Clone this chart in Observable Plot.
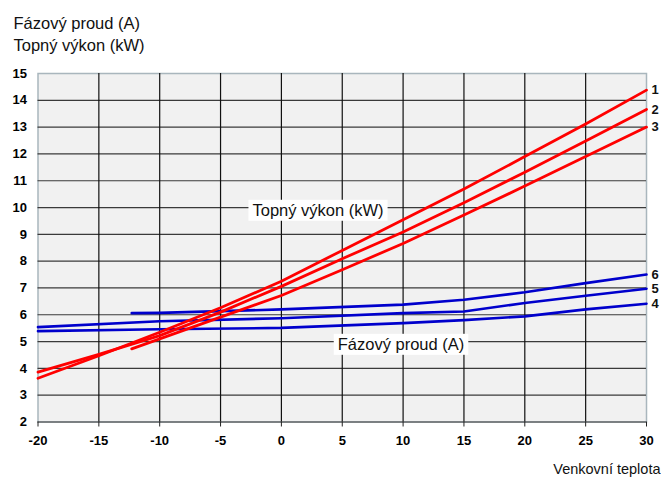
<!DOCTYPE html>
<html>
<head>
<meta charset="utf-8">
<script src="https://cdn.jsdelivr.net/npm/d3@7"></script>
<script src="https://cdn.jsdelivr.net/npm/@observablehq/plot@0.6"></script>
<style>
  html, body { margin: 0; padding: 0; background: #ffffff; }
  #chart svg { display: block; }
</style>
</head>
<body>
<div id="chart"></div>
<script>
// ---- data ----
const xTicks = [-20, -15, -10, -5, 0, 5, 10, 15, 20, 25, 30];
const yTicks = [2, 3, 4, 5, 6, 7, 8, 9, 10, 11, 12, 13, 14, 15];

// heating output (kW) curves 1..3
const line1T = [-20, -15, -10, -5, 0, 5, 10, 15, 20, 25, 30];
const line1V = [3.63, 4.47, 5.35, 6.26, 7.25, 8.40, 9.54, 10.69, 11.90, 13.12, 14.38];
const line2T = [-20, -15, -10, -5, 0, 5, 10, 15, 20, 25, 30];
const line2V = [3.86, 4.52, 5.22, 6.10, 7.06, 8.09, 9.09, 10.18, 11.32, 12.48, 13.66];
const line3T = [-12.3, -10, -5, 0, 5, 10, 15, 20, 25, 30];
const line3V = [4.73, 5.10, 5.91, 6.72, 7.68, 8.66, 9.72, 10.80, 11.90, 13.00];

// phase current (A) curves 4..6
const line4T = [-20, -10, 0, 10, 15, 20, 25, 30];
const line4V = [5.39, 5.46, 5.51, 5.69, 5.80, 5.94, 6.20, 6.41];
const line5T = [-20, -10, 0, 10, 15, 20, 25, 30];
const line5V = [5.54, 5.76, 5.87, 6.06, 6.12, 6.44, 6.71, 6.97];
const line6T = [-12.3, -10, 0, 10, 15, 20, 25, 30];
const line6V = [6.06, 6.07, 6.20, 6.38, 6.56, 6.84, 7.18, 7.50];

// text
const titleCurrent = "Fázový proud (A)";
const titlePower = "Topný výkon (kW)";
const titleX = "Venkovní teplota";

// ---- build tables ----
function rows(name, ts, vs) { return ts.map((t, i) => ({series: name, t, v: vs[i]})); }
const red = [
  ...rows("1", line1T, line1V),
  ...rows("2", line2T, line2V),
  ...rows("3", line3T, line3V)
];
const blue = [
  ...rows("4", line4T, line4V),
  ...rows("5", line5T, line5V),
  ...rows("6", line6T, line6V)
];
const ends = [...red, ...blue].filter(d => d.t === 30);

const FONT = "'Liberation Sans', Arial, sans-serif";
const inlineLabels = [
  {text: titlePower, t: 3.05, v: 9.89},
  {text: titleCurrent, t: 9.87, v: 4.89}
];

const chart = Plot.plot({
  width: 661,
  height: 477,
  marginLeft: 37.5,
  marginRight: 15,
  marginTop: 73,
  marginBottom: 55.5,
  style: {fontFamily: FONT, background: "transparent", color: "#000"},
  x: {domain: [-20, 30], axis: null},
  y: {domain: [2, 15], axis: null},
  marks: [
    Plot.frame({fill: "#f1f1f1", stroke: "#a9b6bd", strokeWidth: 1.5}),
    Plot.gridY(yTicks.filter(v => v < 15), {stroke: "#3a3a3a", strokeOpacity: 1, strokeWidth: 1.2}),
    Plot.gridX(xTicks.filter(v => v > -20 && v < 30), {stroke: "#111", strokeOpacity: 1, strokeWidth: 1.2}),
    Plot.axisX(xTicks, {label: null, tickSize: 5, tickPadding: 9, fontSize: 13, fontWeight: "bold", stroke: "#222", tickFormat: d => String(d)}),
    Plot.axisY(yTicks, {label: null, tickSize: 0, tickPadding: 11, fontSize: 13, fontWeight: "bold", tickFormat: d => String(d)}),
    Plot.line(blue, {x: "t", y: "v", z: "series", stroke: "#0000cc", strokeWidth: 2.6}),
    Plot.line(red, {x: "t", y: "v", z: "series", stroke: "#ff0000", strokeWidth: 2.8}),
    Plot.text(ends, {x: "t", y: "v", text: "series", dx: 5, textAnchor: "start", fontSize: 13, fontWeight: "bold", fill: "#111"}),
    // axis titles
    Plot.text([titleCurrent], {frameAnchor: "top-left", text: d => d, dx: -24.5, dy: -45, textAnchor: "start", lineAnchor: "bottom", fontSize: 16.5, fill: "#111"}),
    Plot.text([titlePower], {frameAnchor: "top-left", text: d => d, dx: -24.5, dy: -23, textAnchor: "start", lineAnchor: "bottom", fontSize: 16.5, fill: "#111"}),
    Plot.text([titleX], {frameAnchor: "bottom-right", text: d => d, dx: 14, dy: 52, textAnchor: "end", lineAnchor: "bottom", fontSize: 14.5, fill: "#111"})
  ]
});

document.getElementById("chart").appendChild(chart);

// in-chart labels with white boxes, positioned through the chart's own scales
const sx = chart.scale("x"), sy = chart.scale("y");
const svg = d3.select(chart);
for (const lab of inlineLabels) {
  const g = svg.append("g");
  const rect = g.append("rect").attr("fill", "#ffffff");
  const txt = g.append("text")
    .attr("x", sx.apply(lab.t)).attr("y", sy.apply(lab.v))
    .attr("text-anchor", "middle").attr("dy", "0.35em")
    .attr("font-size", 16.5).attr("fill", "#111")
    .attr("font-family", FONT)
    .text(lab.text);
  const b = txt.node().getBBox();
  rect.attr("x", b.x - 4).attr("y", b.y - 1).attr("width", b.width + 8).attr("height", b.height + 3);
}
</script>
</body>
</html>
